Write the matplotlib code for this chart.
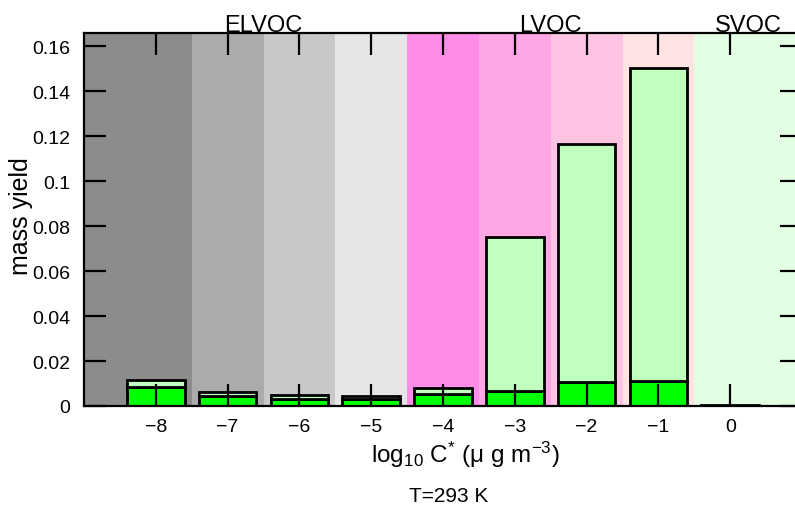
import numpy as np
import matplotlib
matplotlib.use('Agg')
import matplotlib.pyplot as plt

plt.rcParams['font.family'] = ['Liberation Sans', 'DejaVu Sans']
plt.rcParams['mathtext.default'] = 'regular'

## Volatility basis set bins and mass yields ##

log_cstar = [-8, -7, -6, -5, -4, -3, -2, -1, 0]
yield_total = [0.0116, 0.0062, 0.0047, 0.0046, 0.0078, 0.0751, 0.1164, 0.1505, 0.0004]	# whole bar
yield_low = [0.0084, 0.0044, 0.0030, 0.0030, 0.0055, 0.0068, 0.0108, 0.0112, 0.0002]	# bright green part

# background band for each bin (edges and colours)
band_edges = [-9, -7.5, -6.5, -5.5, -4.5, -3.5, -2.5, -1.5, -0.5, 1]
band_colors = ['#8c8c8c', '#ababab', '#c8c8c8', '#e6e6e6',
               '#ff8ce6', '#ffa6e4', '#ffc4e3', '#ffe3e3', '#e3ffe3']

classes = ['ELVOC', 'LVOC', 'SVOC']
class_pos = [-6.5, -2.5, 0.25]

fig = plt.figure(figsize=(7.95, 5.06), dpi=100)
ax = fig.add_axes([84/795, 1-407/506, (802-84)/795, (407-34)/506])

for i in range(len(band_colors)):
    ax.axvspan(band_edges[i], band_edges[i+1], color=band_colors[i], lw=0, zorder=0)

yield_top = np.array(yield_total) - np.array(yield_low)
ax.bar(log_cstar, yield_low, width=0.8, color='#00ff00', edgecolor='black', linewidth=2, zorder=1)
ax.bar(log_cstar, yield_top, bottom=yield_low, width=0.8, color='#c0ffc0', edgecolor='black', linewidth=2, zorder=1)

ax.set_xlim(-9, 1)
ax.set_ylim(0, 0.166)
ax.set_xticks(log_cstar)
ax.set_xticklabels(['\u2212%d' % -v if v < 0 else '%d' % v for v in log_cstar])
ax.set_yticks(np.arange(0, 0.161, 0.02))
ax.set_yticklabels(['0'] + ['%g' % v for v in np.arange(0.02, 0.161, 0.02)])
ax.set_axisbelow(False)
ax.tick_params(direction='in', length=16, width=1.6, labelsize=14, top=True, right=True, colors='black')
ax.tick_params(axis='x', pad=9)
ax.tick_params(axis='y', pad=10)
for s in ax.spines.values():
    s.set_linewidth(1.6)

fig.text(21/795, 1-216/506, 'mass yield', rotation=90, ha='center', va='center', fontsize=18)

for name, x in zip(classes, class_pos):
    ax.annotate(name, xy=(x, 1), xycoords=('data', 'axes fraction'), xytext=(0, 2),
                textcoords='offset pixels', ha='center', va='baseline', fontsize=17)

fig.text(465/795, 1-463/506, 'log$_{10}$ C$^{*}$ (\u03bc g m$^{\u22123}$)', ha='center', va='baseline', fontsize=17.5)
fig.text(449/795, 1-502/506, 'T=293 K', ha='center', va='baseline', fontsize=15)

plt.savefig('out.png', dpi=100)
